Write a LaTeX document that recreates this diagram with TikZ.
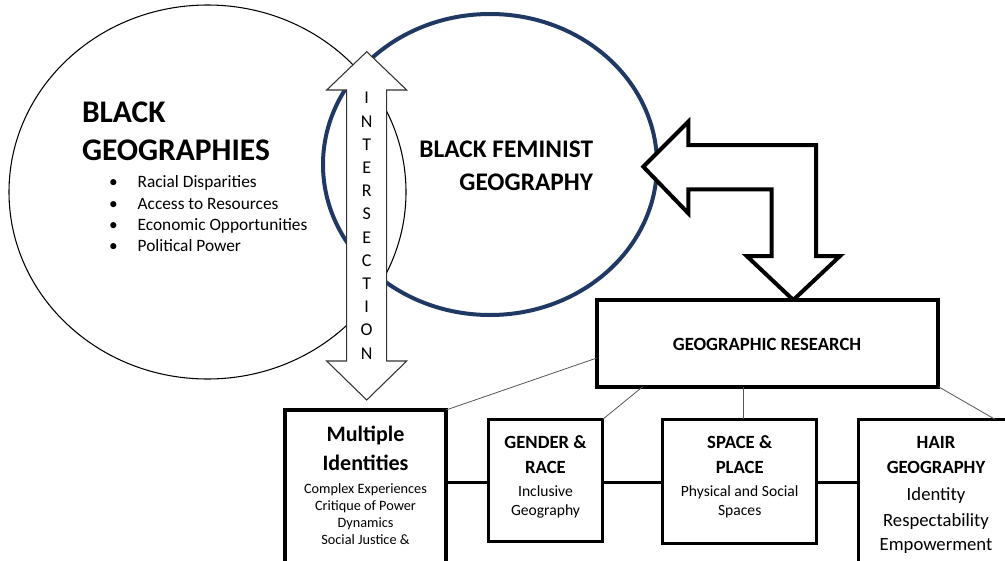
\documentclass[tikz,border=0pt]{standalone}
\usepackage{fontspec}
\setmainfont{Carlito}
\usetikzlibrary{calc,shapes.geometric}
\definecolor{navy}{HTML}{1F3864}
\definecolor{thinline}{HTML}{555555}
\begin{document}
\begin{tikzpicture}[x=0.75pt,y=-0.75pt,
  every node/.style={inner sep=0pt, outer sep=0pt},
  ring/.style={ellipse, draw=black, line width=0.8pt},
  navyring/.style={ellipse, draw=navy, line width=3pt},
  blockarrow/.style={draw=black, fill=white, line width=3pt, line join=miter},
  thinarrow/.style={draw=black!80, fill=white, line width=0.8pt, line join=miter},
  resbox/.style={rectangle, draw=black, fill=white, line width=3pt},
  topicbox/.style={rectangle, draw=black, fill=white, line width=2.6pt},
  link/.style={draw=black, line width=2.6pt},
  branch/.style={draw=thinline, line width=0.6pt},
  headA/.style={font=\fontsize{23.6}{27}\selectfont\bfseries, anchor=base west},
  headB/.style={font=\fontsize{19}{23}\selectfont\bfseries, anchor=base east},
  item/.style={font=\fontsize{13}{16}\selectfont, anchor=base west},
  letter/.style={font=\fontsize{13.5}{16}\selectfont, anchor=base},
  restitle/.style={font=\fontsize{14}{17}\selectfont\bfseries, anchor=base},
  mtitle/.style={font=\fontsize{16.5}{20}\selectfont\bfseries, anchor=base},
  msub/.style={font=\fontsize{10.7}{13}\selectfont, anchor=base},
  ttitle/.style={font=\fontsize{14}{17}\selectfont\bfseries, anchor=base},
  tsub/.style={font=\fontsize{11.7}{14}\selectfont, anchor=base},
  hsub/.style={font=\fontsize{14}{17}\selectfont, anchor=base}]
\clip (0,0) rectangle (1005,560);

% the two overlapping fields
\node[ring, minimum width=297.75pt, minimum height=280.5pt] (bg) at (207.5,192) {};
\node[navyring, minimum width=250.5pt, minimum height=225.75pt] (bfg) at (490,164.5) {};

% Black Geographies
\node[headA] (bgA) at (82,122) {BLACK};
\node[headA] (bgB) at (82,160) {GEOGRAPHIES};
\node[item] (i1) at (109,187.7) {\makebox[21.5pt][l]{\textbullet}Racial Disparities};
\node[item] (i2) at (109,209) {\makebox[21.5pt][l]{\textbullet}Access to Resources};
\node[item] (i3) at (109,230.3) {\makebox[21.5pt][l]{\textbullet}Economic Opportunities};
\node[item] (i4) at (109,251.7) {\makebox[21.5pt][l]{\textbullet}Political Power};

% Black Feminist Geography
\node[headB] (bfA) at (593,157) {BLACK FEMINIST};
\node[headB] (bfB) at (593,190) {GEOGRAPHY};

% intersection double arrow
\draw[thinarrow] (366.7,51.7) -- (406.7,90) -- (386.7,90) -- (386.7,361) -- (406.7,361)
  -- (366.7,400) -- (326.7,361) -- (346.7,361) -- (346.7,90) -- (326.7,90) -- cycle;
\foreach \ch [count=\i] in {I,N,T,E,R,S,E,C,T,I,O,N}
  \node[letter] (int\i) at (366.7,{103.8+23.2*(\i-1)}) {\ch};

% bent two-way arrow between the feminist field and research
\draw[blockarrow] (643.3,166.7) -- (688.3,121.7) -- (688.3,145) -- (816,145) -- (816,256)
  -- (840,256) -- (793.3,300) -- (746.7,256) -- (771.7,256) -- (771.7,189.3)
  -- (688.3,189.3) -- (688.3,213.3) -- cycle;

% research box and its topics
\node[resbox, minimum width=256.2pt, minimum height=65pt] (res) at (767.5,343.3) {};
\node[restitle] (resT) at (767,350.7) {GEOGRAPHIC RESEARCH};

\node[topicbox, minimum width=120.75pt, minimum height=127.5pt] (mi) at (365.5,495) {};
\node[topicbox, minimum width=85.8pt, minimum height=91.8pt] (gr) at (545.5,480.5) {};
\node[topicbox, minimum width=115.5pt, minimum height=93pt] (sp) at (739.7,481.3) {};
\node[topicbox, minimum width=116.6pt, minimum height=120.5pt] (hg) at (936,499.7) {};

% branches from the research box
\draw[branch] ($(res.north west)!0.67!(res.south west)$) -- (mi.north east);
\draw[branch] ($(res.south west)!0.135!(res.south east)$) -- (gr.north east);
\coordinate (spTop) at ($(res.south west)!0.43!(res.south east)$);
\draw[branch] (spTop) -- (spTop |- sp.north);
\draw[branch] (res.south east) -- ($(hg.north west)!0.88!(hg.north east)$);

% links along the row of topics
\coordinate (row) at (0,482.7);
\draw[link] (mi.east |- row) -- (gr.west |- row);
\draw[link] (gr.east |- row) -- (sp.west |- row);
\draw[link] (sp.east |- row) -- (hg.west |- row);

% topic texts
\node[mtitle] (miA) at (365.5,441.7) {Multiple};
\node[mtitle] (miB) at (365.5,470.7) {Identities};
\node[msub] (miC) at (365.5,493.3) {Complex Experiences};
\node[msub] (miD) at (365.5,510) {Critique of Power};
\node[msub] (miE) at (365.5,527.3) {Dynamics};
\node[msub] (miF) at (365.5,544) {Social Justice \&};

\node[ttitle] (grA) at (545.5,448.3) {GENDER \&};
\node[ttitle] (grB) at (545.5,473.3) {RACE};
\node[tsub] (grC) at (545.5,496.7) {Inclusive};
\node[tsub] (grD) at (545.5,515) {Geography};

\node[ttitle] (spA) at (739.7,448.3) {SPACE \&};
\node[ttitle] (spB) at (739.7,473.3) {PLACE};
\node[tsub] (spC) at (739.7,496.7) {Physical and Social};
\node[tsub] (spD) at (739.7,515) {Spaces};

\node[ttitle] (hgA) at (936,448.3) {HAIR};
\node[ttitle] (hgB) at (936,473.3) {GEOGRAPHY};
\node[hsub] (hgC) at (936,500.7) {Identity};
\node[hsub] (hgD) at (936,526.7) {Respectability};
\node[hsub] (hgE) at (936,550.7) {Empowerment};
\end{tikzpicture}
\end{document}
